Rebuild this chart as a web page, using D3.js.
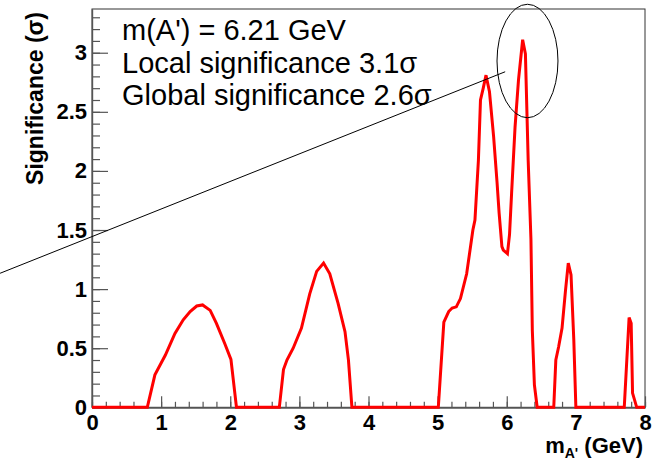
<!DOCTYPE html>
<html>
<head>
<meta charset="utf-8">
<script src="https://cdn.jsdelivr.net/npm/d3@7"></script>
<style>
html,body{margin:0;padding:0;background:#fff;}
svg{display:block;}
text{font-family:"Liberation Sans",Arial,Helvetica,sans-serif;}
</style>
</head>
<body>
<svg id="chart" width="660" height="460"></svg>
<script>
// Data (mass in GeV, significance in sigma)
const massValues = [0,0.80,0.91,1.06,1.20,1.32,1.42,1.515,1.60,1.71,1.80,1.92,2.01,2.09,
  2.71,2.77,2.82,2.91,3.03,3.15,3.25,3.35,3.44,3.56,3.66,3.71,3.76,
  5.01,5.09,5.16,5.21,5.27,5.33,5.42,5.51,5.54,5.59,5.62,5.66,5.70,5.75,5.81,5.86,5.89,5.93,5.95,6.01,6.04,6.07,6.12,6.17,6.23,6.27,6.31,6.35,6.37,6.40,6.44,
  6.68,6.71,6.75,6.80,6.85,6.89,6.93,6.97,7.00,
  7.70,7.77,7.80,7.82,7.88,8.00];
const significanceValues = [0,0,0.275,0.44,0.625,0.74,0.81,0.857,0.866,0.82,0.71,0.54,0.405,0,
  0,0.32,0.40,0.50,0.67,0.96,1.15,1.22,1.13,0.88,0.64,0.40,0,
  0,0.72,0.81,0.84,0.85,0.92,1.13,1.50,1.585,2.09,2.60,2.70,2.81,2.67,2.29,1.90,1.64,1.36,1.33,1.30,1.46,1.81,2.37,2.77,3.11,2.99,2.09,1.42,0.65,0.19,0,
  0,0.40,0.51,0.67,0.99,1.22,1.12,0.57,0,
  0,0.76,0.71,0.12,0,0];
const xTickLabels = [0,1,2,3,4,5,6,7,8];
const yTickLabels = [0,0.5,1,1.5,2,2.5,3];
const annotationLines = ["m(A') = 6.21 GeV","Local significance 3.1\u03c3","Global significance 2.6\u03c3"];
// annotation pointer (data coords) and ellipse (data coords)
const pointerFrom = [-1.33, 1.134];
const pointerTo = [5.977, 2.839];
const ellipseCenter = [6.30, 2.93];
const ellipseRadii = [0.441, 0.48];

const svg = d3.select("#chart");
const L = 92, R = 645, T = 9, B = 407.3;
const x = d3.scaleLinear().domain([0,8]).range([L,R]);
const y = d3.scaleLinear().domain([0,3.37]).range([B,T]);

const axisColor = "#555";

// frame
svg.append("rect").attr("x",L).attr("y",T).attr("width",R-L).attr("height",B-T)
  .attr("fill","none").attr("stroke","#333").attr("stroke-width",1);

// x minor ticks
const xMinor = svg.append("g").attr("transform",`translate(0,${B})`)
  .call(d3.axisBottom(x).tickValues(d3.range(0,8.001,0.2)).tickSizeInner(-5.5).tickSizeOuter(0).tickFormat(""));
// x major ticks
const xMajor = svg.append("g").attr("transform",`translate(0,${B})`)
  .call(d3.axisBottom(x).tickValues(xTickLabels).tickSizeInner(-11).tickSizeOuter(0).tickPadding(7).tickFormat(d3.format("d")));
// y minor
const yMinor = svg.append("g").attr("transform",`translate(${L},0)`)
  .call(d3.axisLeft(y).tickValues(d3.range(0,3.35,0.1)).tickSizeInner(-8).tickSizeOuter(0).tickFormat(""));
const yMajor = svg.append("g").attr("transform",`translate(${L},0)`)
  .call(d3.axisLeft(y).tickValues(yTickLabels).tickSizeInner(-16).tickSizeOuter(0).tickPadding(5).tickFormat(d => d3.format("")(d)));

[xMinor,xMajor,yMinor,yMajor].forEach(g => {
  g.selectAll(".domain").attr("stroke",axisColor).attr("stroke-width",1.2);
  g.selectAll(".tick line").attr("stroke",axisColor).attr("stroke-width",1.2);
  g.selectAll("text").attr("fill","#000").style("font-size","22px").style("font-weight","bold")
    .style("font-family",'"Liberation Sans",Arial,sans-serif');
});

// curve
const line = d3.line().x((d,i)=>x(massValues[i])).y((d,i)=>y(significanceValues[i]));
svg.append("path").datum(significanceValues).attr("d",line)
  .attr("fill","none").attr("stroke","#ff0000").attr("stroke-width",3).attr("stroke-linejoin","miter").attr("stroke-miterlimit",3);

// pointer line and ellipse
svg.append("line").attr("x1",x(pointerFrom[0])).attr("y1",y(pointerFrom[1]))
  .attr("x2",x(pointerTo[0])).attr("y2",y(pointerTo[1])).attr("stroke","#000").attr("stroke-width",1);
svg.append("ellipse").attr("cx",x(ellipseCenter[0])).attr("cy",y(ellipseCenter[1]))
  .attr("rx",x(ellipseRadii[0])-x(0)).attr("ry",y(0)-y(ellipseRadii[1]))
  .attr("fill","none").attr("stroke","#000").attr("stroke-width",1);

// annotation text
svg.append("g").selectAll("text").data(annotationLines).join("text")
  .attr("x",122).attr("y",(d,i)=>40+i*32.5)
  .style("font-size","29px").attr("fill","#000").text(d=>d);

// y title
svg.append("text").attr("transform","translate(43,12) rotate(-90)")
  .attr("text-anchor","end").style("font-size","23px").style("font-weight","bold")
  .text("Significance (\u03c3)");

// x title
const xt = svg.append("text").attr("x",643).attr("y",453).attr("text-anchor","end")
  .style("font-size","22px").style("font-weight","bold");
xt.append("tspan").text("m");
xt.append("tspan").attr("dy",5).style("font-size","14px").text("A'");
xt.append("tspan").attr("dy",-5).text(" (GeV)");
</script>
</body>
</html>
